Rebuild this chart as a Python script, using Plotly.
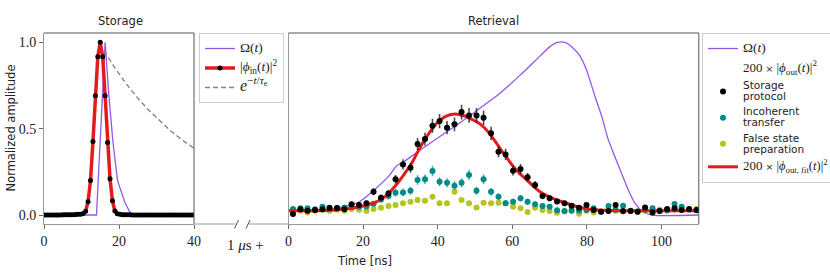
import plotly.graph_objects as go

# ---------------- data ----------------
# Storage panel
t_in = [0.05, 0.70, 1.35, 2.00, 2.65, 3.30, 3.95, 4.60, 5.25, 5.90, 6.55, 7.20, 7.85, 8.50, 9.15,
        9.80, 10.45, 11.10, 11.75, 12.40, 13.05, 13.70, 14.35, 15.00, 15.65, 16.30, 16.95, 17.60,
        18.25, 18.90, 19.55, 20.20, 20.85, 21.50, 22.15, 22.80, 23.45, 24.10, 24.75, 25.40, 26.05,
        26.70, 27.35, 28.00, 28.65, 29.30, 29.95, 30.60, 31.25, 31.90, 32.55, 33.20, 33.85, 34.50,
        35.15, 35.80, 36.45, 37.10, 37.75, 38.40, 39.05, 39.70]
phi_in = [0.000, 0.000, 0.000, 0.000, 0.000, 0.000, 0.000, 0.000, 0.001, 0.001, 0.001, 0.002, 0.002,
          0.003, 0.004, 0.005, 0.009, 0.022, 0.077, 0.200, 0.425, 0.690, 0.917, 1.000, 0.917, 0.690,
          0.420, 0.210, 0.083, 0.023, 0.008, 0.004, 0.002, 0.001, 0.001, 0.001, 0.000, 0.000, 0.000,
          0.000, 0.000, 0.000, 0.000, 0.000, 0.000, 0.000, 0.000, 0.000, 0.000, 0.000, 0.000, 0.000,
          0.000, 0.000, 0.000, 0.000, 0.000, 0.000, 0.000, 0.000, 0.000, 0.000]
t_om_st = [0, 14.0, 16.3, 17.3, 18.4, 19.6, 21.5, 22.8, 23.9, 40]
om_st = [0, 0, 1.0, 0.69, 0.42, 0.20, 0.077, 0.02, 0, 0]
t_exp = [16.0, 19.0, 22.0, 25.0, 28.0, 31.0, 34.0, 37.0, 40.0]
v_exp = [0.95, 0.849, 0.758, 0.677, 0.605, 0.541, 0.483, 0.432, 0.386]

# Retrieval panel
t_ret = [1.2, 3.2, 5.1, 7.1, 9.1, 11.0, 13.0, 15.0, 16.9, 18.9, 20.9, 22.8, 24.8, 26.8, 28.7, 30.7,
         32.7, 34.6, 36.6, 38.6, 40.5, 42.5, 44.5, 46.4, 48.4, 50.4, 52.3, 54.3, 56.3, 58.2, 60.2,
         62.2, 64.1, 66.1, 68.1, 70.0, 72.0, 74.0, 75.9, 77.9, 79.9, 81.8, 83.8, 85.8, 87.7, 89.7,
         91.7, 93.6, 95.6, 97.6, 99.5, 101.5, 103.5, 105.4, 107.4, 109.4]
storage = [0.006, 0.033, 0.025, 0.029, 0.033, 0.041, 0.041, 0.033, 0.062, 0.058, 0.068, 0.135, 0.100,
           0.125, 0.207, 0.293, 0.274, 0.411, 0.440, 0.517, 0.544, 0.506, 0.525, 0.596, 0.577, 0.577,
           0.563, 0.473, 0.367, 0.351, 0.257, 0.266, 0.218, 0.174, 0.110, 0.097, 0.079, 0.068, 0.054,
           0.042, 0.058, 0.029, 0.019, 0.023, 0.058, 0.023, 0.023, 0.019, 0.044, 0.015, 0.023, 0.035,
           0.039, 0.029, 0.035, 0.029]
storage_err = [0.008, 0.010, 0.009, 0.010, 0.010, 0.011, 0.011, 0.010, 0.014, 0.013, 0.014, 0.021,
               0.018, 0.020, 0.025, 0.030, 0.029, 0.035, 0.037, 0.040, 0.041, 0.039, 0.040, 0.043,
               0.042, 0.042, 0.042, 0.038, 0.033, 0.033, 0.028, 0.029, 0.026, 0.023, 0.018, 0.017,
               0.016, 0.014, 0.013, 0.011, 0.013, 0.010, 0.008, 0.009, 0.013, 0.009, 0.009, 0.008,
               0.012, 0.007, 0.009, 0.010, 0.011, 0.010, 0.010, 0.010]
incoherent = [0.035, 0.039, 0.039, 0.033, 0.048, 0.042, 0.039, 0.044, 0.045, 0.048,
              0.050, 0.065, 0.090, 0.110, 0.129, 0.131, 0.141, 0.203, 0.207, 0.255,
              0.193, 0.187, 0.170, 0.187, 0.232, 0.141, 0.207, 0.135, 0.106, 0.068,
              0.077, 0.097, 0.077, 0.062, 0.052, 0.048, 0.027, 0.023, 0.025, 0.025,
              0.029, 0.039, 0.019, 0.052, 0.030, 0.054, 0.025, 0.020, 0.030, 0.039,
              0.025, 0.028, 0.064, 0.048, 0.032, 0.027]
incoherent_err = [0.010, 0.011, 0.011, 0.010, 0.012, 0.011, 0.011, 0.012, 0.012, 0.012,
                  0.012, 0.015, 0.018, 0.020, 0.022, 0.022, 0.023, 0.027, 0.027, 0.030,
                  0.026, 0.026, 0.025, 0.026, 0.029, 0.023, 0.027, 0.022, 0.020, 0.016,
                  0.017, 0.019, 0.017, 0.015, 0.014, 0.013, 0.010, 0.009, 0.010, 0.010,
                  0.010, 0.012, 0.009, 0.014, 0.010, 0.014, 0.010, 0.009, 0.010, 0.012,
                  0.010, 0.010, 0.015, 0.013, 0.011, 0.010]
false_state = [0.030, 0.025, 0.015, 0.025, 0.030, 0.025, 0.030, 0.025, 0.035, 0.030,
               0.023, 0.035, 0.042, 0.052, 0.058, 0.068, 0.077, 0.087, 0.083, 0.106,
               0.068, 0.068, 0.135, 0.087, 0.068, 0.044, 0.071, 0.068, 0.071, 0.068,
               0.048, 0.039, 0.017, 0.042, 0.029, 0.023, 0.013, 0.020, 0.030, 0.008,
               0.025, 0.015, 0.020, 0.030, 0.025, 0.020, 0.025, 0.020, 0.025, 0.020,
               0.030, 0.025, 0.030, 0.045, 0.030, 0.035]
false_state_err = [0.007, 0.006, 0.005, 0.006, 0.007, 0.006, 0.007, 0.006, 0.007, 0.007,
                   0.006, 0.007, 0.008, 0.009, 0.010, 0.010, 0.011, 0.012, 0.012, 0.013,
                   0.010, 0.010, 0.015, 0.012, 0.010, 0.008, 0.011, 0.010, 0.011, 0.010,
                   0.009, 0.008, 0.005, 0.008, 0.007, 0.006, 0.005, 0.006, 0.007, 0.004,
                   0.006, 0.005, 0.006, 0.007, 0.006, 0.006, 0.006, 0.006, 0.006, 0.006,
                   0.007, 0.006, 0.007, 0.008, 0.007, 0.007]
t_fit = [0, 10, 13, 16, 19, 21, 23, 25, 27, 29, 31, 33, 35, 37, 39.7, 42, 44.6, 47, 49.5, 51.5, 53.1,
         55, 56.7, 58.5, 60.3, 62, 63.9, 65.6, 67.4, 69.5, 71.9, 74, 76, 78, 80.4, 83, 86, 90, 110]
v_fit = [0.025, 0.026, 0.029, 0.037, 0.048, 0.058, 0.071, 0.093, 0.129, 0.178, 0.236, 0.298, 0.380,
         0.452, 0.530, 0.570, 0.585, 0.575, 0.550, 0.525, 0.492, 0.440, 0.386, 0.333, 0.280, 0.240,
         0.203, 0.168, 0.135, 0.110, 0.087, 0.072, 0.058, 0.045, 0.035, 0.029, 0.026, 0.025, 0.025]
t_om_rt = [0, 9, 12, 15, 19, 23, 27, 29, 31, 35.3, 40, 45, 48, 51.3, 56.7, 62.1, 67.4, 70.1, 72.1,
           74.1, 75.9, 78.0, 79.9, 82.2, 84.0, 85.7, 87.5, 89.3, 91.1, 92.9, 95.1, 97.4, 110]
om_rt = [0.028, 0.030, 0.036, 0.048, 0.077, 0.145, 0.228, 0.285, 0.310, 0.376, 0.446, 0.520, 0.565,
         0.618, 0.705, 0.810, 0.920, 0.975, 1.0, 1.0, 0.975, 0.926, 0.840, 0.685, 0.570, 0.438,
         0.338, 0.241, 0.145, 0.068, 0.019, 0.0, 0.0]

# ---------------- style ----------------
W, H = 830, 275
SERIF = "Liberation Serif"
SANS = "DejaVu Sans"
PURPLE = "#9457eb"
RED = "#e41a1c"
TEAL = "#008b8b"
OLIVE = "#b5c41f"
GRAY = "#808080"


def sans(s, size=10.5):
    return f'<span style="font-family:{SANS};font-size:{size}px">{s}</span>'


def serif(s, size=13):
    return f'<span style="font-family:{SERIF};font-size:{size}px">{s}</span>'


fig = go.Figure()

# Storage panel
fig.add_trace(go.Scatter(x=t_om_st, y=om_st, mode="lines", line=dict(color=PURPLE, width=1.3),
                         name=serif("Ω(<i>t</i>)", 13.5), legend="legend", legendgroup="a1",
                         xaxis="x", yaxis="y"))
fig.add_trace(go.Scatter(x=t_in, y=phi_in, mode="lines+markers",
                         line=dict(color=RED, width=3.5), marker=dict(color="black", size=5),
                         name=serif("|<i>ϕ</i><sub>in</sub>(<i>t</i>)|<sup>2</sup>", 13.5),
                         legend="legend", legendgroup="a2", xaxis="x", yaxis="y"))
fig.add_trace(go.Scatter(x=t_exp, y=v_exp, mode="lines", line=dict(color=GRAY, width=1.3, dash="5px,3px"),
                         name=serif("<i>e</i><sup>−<i>t</i>/<i>τ</i><sub>e</sub></sup>", 16),
                         legend="legend", legendgroup="a3", xaxis="x", yaxis="y"))

# Retrieval panel
fig.add_trace(go.Scatter(x=t_om_rt, y=om_rt, mode="lines",
                         line=dict(color=PURPLE, width=1.3, shape="spline", smoothing=0.6),
                         name=serif("Ω(<i>t</i>)", 13.5), legend="legend2", legendgroup="b1", legendrank=1,
                         xaxis="x2", yaxis="y2"))
fig.add_trace(go.Scatter(x=[None], y=[None], mode="markers", marker=dict(color="rgba(0,0,0,0)", size=1),
                         name=serif("200", 13) + sans(" × ", 9.5)
                         + serif("|<i>ϕ</i><sub>out</sub>(<i>t</i>)|<sup>2</sup>", 13),
                         legend="legend2", legendgroup="b2", legendrank=2, xaxis="x2", yaxis="y2"))
fig.add_trace(go.Scatter(x=t_ret, y=false_state, mode="markers",
                         marker=dict(color=OLIVE, size=6),
                         error_y=dict(type="data", array=false_state_err, color=OLIVE, thickness=1.5, width=0),
                         name=sans("False state") + "<br>" + sans("preparation"),
                         legend="legend2", legendgroup="b5", legendrank=5, xaxis="x2", yaxis="y2"))
fig.add_trace(go.Scatter(x=t_ret, y=incoherent, mode="markers",
                         marker=dict(color=TEAL, size=6),
                         error_y=dict(type="data", array=incoherent_err, color="rgba(0,139,139,0.75)",
                                      thickness=1.5, width=0),
                         name=sans("Incoherent") + "<br>" + sans("transfer"),
                         legend="legend2", legendgroup="b4", legendrank=4, xaxis="x2", yaxis="y2"))
fig.add_trace(go.Scatter(x=t_fit, y=v_fit, mode="lines",
                         line=dict(color=RED, width=3, shape="spline", smoothing=0.8),
                         name=serif("200", 13) + sans(" × ", 9.5)
                         + serif("|<i>ϕ</i><sub>out, fit</sub>(<i>t</i>)|<sup>2</sup>", 12.5),
                         legend="legend2", legendgroup="b6", legendrank=6, xaxis="x2", yaxis="y2"))
fig.add_trace(go.Scatter(x=t_ret, y=storage, mode="markers",
                         marker=dict(color="black", size=6),
                         error_y=dict(type="data", array=storage_err, color="rgba(30,30,30,0.8)",
                                      thickness=1.6, width=0),
                         name=sans("Storage") + "<br>" + sans("protocol"),
                         legend="legend2", legendgroup="b3", legendrank=3, xaxis="x2", yaxis="y2"))

y_dom = [1 - 224 / H, 1 - 33 / H]
yr = [-0.052, 1.054]
tickfont = dict(family=SERIF, size=14, color="#222")
common_x = dict(ticks="outside", ticklen=4, tickcolor="#666", showline=True, linecolor="#999",
                linewidth=1, showgrid=False, zeroline=False, tickfont=tickfont, automargin=False)

legend_common = dict(bgcolor="white", bordercolor="#cccccc", borderwidth=1,
                     font=dict(family=SERIF, size=8.5, color="#222"),
                     xanchor="left", yanchor="top", itemwidth=30, traceorder="grouped")

fig.update_layout(
    width=W, height=H, margin=dict(l=0, r=0, t=0, b=0, autoexpand=False),
    paper_bgcolor="white", plot_bgcolor="white", showlegend=True,
    xaxis=dict(domain=[44 / W, 194 / W], range=[0, 40], anchor="y", tickvals=[0, 20, 40], **common_x),
    yaxis=dict(domain=y_dom, range=yr, anchor="x", tickvals=[0, 0.5, 1], ticktext=["0.0", "0.5", "1.0"],
               **common_x),
    xaxis2=dict(domain=[288.5 / W, 698.8 / W], range=[0, 110], anchor="y2",
                tickvals=[0, 20, 40, 60, 80, 100], **common_x),
    yaxis2=dict(domain=y_dom, range=yr, anchor="x2", showticklabels=False, ticks="", automargin=False,
                showline=True, linecolor="#999", linewidth=1, showgrid=False, zeroline=False),
    legend=dict(x=199 / W, y=1 - 33 / H, tracegroupgap=0.5, **legend_common),
    legend2=dict(x=702 / W, y=1 - 33 / H, tracegroupgap=1, **legend_common),
)

# darker top/right spines
for xr, yrf in [("x domain", "y domain"), ("x2 domain", "y2 domain")]:
    fig.add_shape(type="line", xref=xr, yref=yrf, x0=0, x1=1, y0=1, y1=1, line=dict(color="#555", width=1))
    fig.add_shape(type="line", xref=xr, yref=yrf, x0=1, x1=1, y0=0, y1=1, line=dict(color="#555", width=1))

# broken time axis between panels
yb = 1 - 224 / H
fig.add_shape(type="line", xref="paper", yref="paper", x0=194 / W, x1=235.5 / W, y0=yb, y1=yb,
              line=dict(color="#999", width=1))
fig.add_shape(type="line", xref="paper", yref="paper", x0=248.5 / W, x1=288.5 / W, y0=yb, y1=yb,
              line=dict(color="#999", width=1))
for xc in [236.5, 248.0]:
    fig.add_shape(type="line", xref="paper", yref="paper", x0=(xc - 2) / W, x1=(xc + 2) / W,
                  y0=1 - 228.5 / H, y1=1 - 220 / H, line=dict(color="#555", width=1))

ann = [
    dict(text="Storage", x=120 / W, y=1 - 21 / H, font=dict(family=SANS, size=11.5, color="#222")),
    dict(text="Retrieval", x=493 / W, y=1 - 21 / H, font=dict(family=SANS, size=11.5, color="#222")),
    dict(text="Time [ns]", x=364 / W, y=1 - 261 / H, font=dict(family=SANS, size=11.5, color="#222")),
    dict(text="1 <i>μ</i>s +", x=245 / W, y=1 - 245 / H, font=dict(family=SERIF, size=15, color="#222")),
    dict(text="Normalized amplitude", x=10 / W, y=1 - 128.5 / H, textangle=-90,
         font=dict(family=SANS, size=11.5, color="#222")),
]
for a in ann:
    fig.add_annotation(xref="paper", yref="paper", showarrow=False, xanchor="center", yanchor="middle", **a)

# remove default page margin so the 830x275 figure fills the window exactly
fig.write_html("out.html", config={"displayModeBar": False},
               post_script="document.body.style.margin='0';document.body.style.overflow='hidden';")
